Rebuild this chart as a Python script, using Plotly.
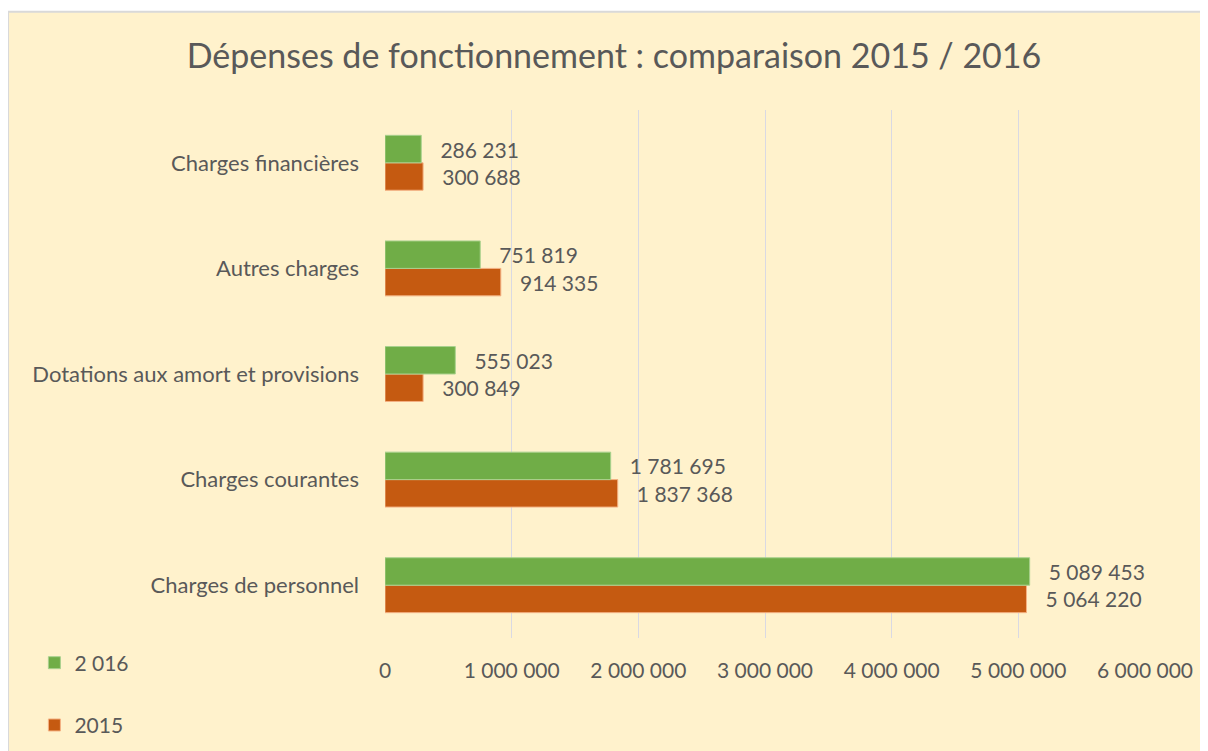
import plotly.graph_objects as go

# categories from bottom to top
categories = ['Charges de personnel', 'Charges courantes',
              'Dotations aux amort et provisions', 'Autres charges',
              'Charges financières']
values_2015 = [5064220, 1837368, 300849, 914335, 300688]
values_2016 = [5089453, 1781695, 555023, 751819, 286231]
x_ticks = [0, 1000000, 2000000, 3000000, 4000000, 5000000, 6000000]

txt = '#595959'
font = 'Lato'

bar_2015 = go.Bar(
    y=categories, x=values_2015, orientation='h', name='2015',
    marker=dict(color='#C55A11', line=dict(color='#F4B183', width=1)),
    texttemplate='   %{x:,}', textposition='outside', cliponaxis=False,
    textfont=dict(size=21, color=txt, family=font),
    legendgroup='a', legendrank=2
)
bar_2016 = go.Bar(
    y=categories, x=values_2016, orientation='h', name='2 016',
    marker=dict(color='#70AD47', line=dict(color='#A9D18E', width=1)),
    texttemplate='   %{x:,}', textposition='outside', cliponaxis=False,
    textfont=dict(size=21, color=txt, family=font),
    legendgroup='b', legendrank=1
)

fig = go.Figure(data=[bar_2015, bar_2016])

# chart frame (white strip on top like the original screenshot)
fig.add_shape(type='rect', xref='paper', yref='paper',
              x0=-0.496, x1=1.2, y0=-0.4, y1=1.186,
              fillcolor='#FFF2CC', line=dict(color='#D9D9D9', width=2),
              layer='below')

fig.update_layout(
    width=1200, height=743,
    title=dict(text='Dépenses de fonctionnement : comparaison 2015 / 2016',
               x=0.505, xanchor='center', y=0.935, yanchor='middle',
               font=dict(size=34, color=txt, family=font)),
    barmode='group', bargap=0.48, bargroupgap=0,
    separators=', ',
    paper_bgcolor='white', plot_bgcolor='#FFF2CC',
    margin=dict(l=377, r=63, t=102, b=113, autoexpand=False),
    font=dict(family=font, color=txt, size=20),
    legend=dict(xref='container', yref='container', x=0.022, y=0.146,
                xanchor='left', yanchor='top', traceorder='grouped',
                tracegroupgap=32, bgcolor='rgba(0,0,0,0)',
                font=dict(size=21, color=txt, family=font)),
    xaxis=dict(range=[0, 6000000], tickvals=x_ticks, tickformat=',',
               showgrid=True, gridcolor='#D9D9E3', gridwidth=1,
               zeroline=False, showline=False, ticklabelstandoff=18,
               automargin=False,
               tickfont=dict(size=21, color=txt, family=font)),
    yaxis=dict(showgrid=False, zeroline=False, showline=False,
               ticklabelstandoff=25, automargin=False,
               tickfont=dict(size=22, color=txt, family=font)),
)

fig.write_html('out.html')
